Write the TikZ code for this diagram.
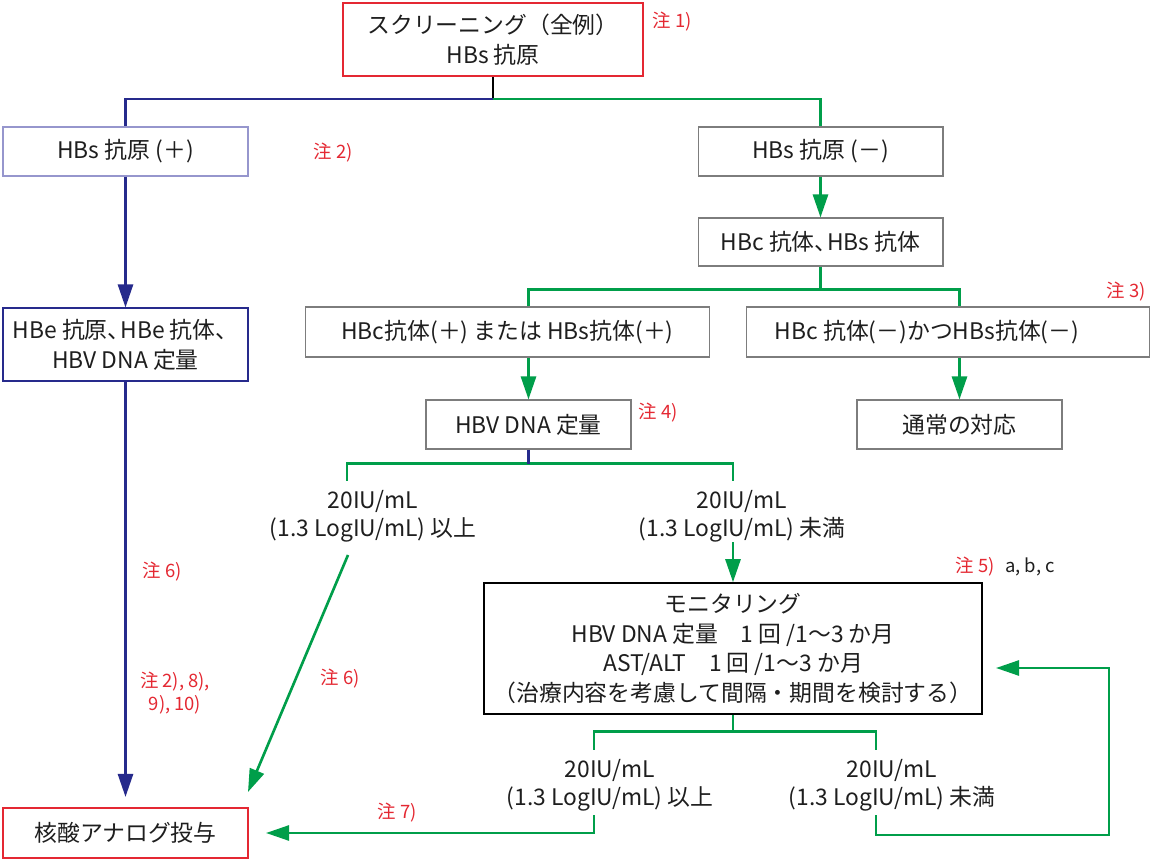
\documentclass[tikz,border=0pt]{standalone}
\usepackage{fontspec}
\setmainfont{Noto Sans CJK JP}
\usepackage{tikz}
\usetikzlibrary{arrows.meta}
\definecolor{flowblue}{RGB}{38,42,140}
\definecolor{flowgreen}{RGB}{0,158,74}
\definecolor{notered}{RGB}{228,40,50}
\definecolor{boxgray}{RGB}{125,125,125}
\definecolor{paleblue}{RGB}{150,150,205}
\definecolor{textgray}{RGB}{30,30,30}
\tikzstyle{box} = [draw=boxgray, rectangle, align=center, inner sep=0pt, text=textgray, font=\fontsize{13}{17}\selectfont, line width=0.6pt]
\tikzstyle{keybox} = [box, draw=notered, line width=1.2pt]
\tikzstyle{level} = [align=center, inner sep=0pt, text=textgray, font=\fontsize{13}{16}\selectfont]
\tikzstyle{note} = [text=notered, font=\fontsize{10.5}{13}\selectfont, inner sep=0pt, align=center]
\tikzstyle{bline} = [line width=1.5pt, color=flowblue]
\tikzstyle{gline} = [line width=1.5pt, color=flowgreen]
\tikzstyle{barrow} = [bline, -{Triangle[length=0.46cm, width=0.3cm]}]
\tikzstyle{garrow} = [gline, -{Triangle[length=0.46cm, width=0.3cm]}]
\begin{document}
\begin{tikzpicture}[x=0.02cm, y=-0.02cm]
    \useasboundingbox (0,0) rectangle (1154,861);
    % boxes
    \node [keybox, minimum width=6cm, minimum height=1.46cm] (screen) at (493,39.5) {スクリーニング（全例）\\HBs 抗原};
    \node [box, draw=paleblue, minimum width=4.9cm, minimum height=0.98cm] (hbs_pos) at (125.5,151.5) {HBs 抗原 (＋)};
    \node [box, minimum width=4.9cm, minimum height=0.98cm] (hbs_neg) at (820.5,151.5) {HBs 抗原 (－)};
    \node [box, minimum width=4.9cm, minimum height=0.96cm] (hbc_test) at (820.5,242) {HBc 抗体、\hspace{-0.45em}HBs 抗体};
    \node [box, draw=flowblue, minimum width=4.9cm, minimum height=1.46cm] (hbe_test) at (125.5,344.5) {HBe 抗原、\hspace{-0.45em}HBe 抗体、\hspace{-0.45em}\\HBV DNA 定量};
    \node [box, minimum width=8.1cm, minimum height=1cm] (hbc_pos) at (507.5,332) {HBc抗体(＋) または HBs抗体(＋)};
    \node [box, minimum width=8.08cm, minimum height=1cm] (hbc_neg) at (948,332) {\hspace*{-0.84cm}HBc 抗体(－)かつHBs抗体(－)};
    \node [box, minimum width=4.1cm, minimum height=0.98cm] (dna_test) at (528.5,424.5) {HBV DNA 定量};
    \node [box, minimum width=4.1cm, minimum height=0.98cm] (routine) at (959.5,424.5) {通常の対応};
    \node [box, draw=black, line width=0.9pt, minimum width=9.96cm, minimum height=2.62cm] (monitor) at (733,648.5)
        {モニタリング\\HBV DNA 定量　1 回 /1～3 か月\\AST/ALT　1 回 /1～3 か月\\（治療内容を考慮して間隔・期間を検討する）};
    \node [keybox, minimum width=4.9cm, minimum height=1cm] (nuc_therapy) at (125.5,833) {核酸アナログ投与};
    % levels
    \node [level] (lvl_hi) at (373,516) {20IU/mL\\(1.3 LogIU/mL) 以上};
    \node [level] (lvl_lo) at (742,516) {20IU/mL\\(1.3 LogIU/mL) 未満};
    \node [level] (lvl_hi2) at (610,785) {20IU/mL\\(1.3 LogIU/mL) 以上};
    \node [level] (lvl_lo2) at (892,785) {20IU/mL\\(1.3 LogIU/mL) 未満};
    % notes
    \node [note] (note1) at (672,22) {注 1)};
    \node [note] (note2) at (333,153) {注 2)};
    \node [note] (note3) at (1126,292) {注 3)};
    \node [note] (note4) at (658,413) {注 4)};
    \node [note] (note5) at (975,567) {注 5)};
    \node [text=textgray, font=\fontsize{10.5}{13}\selectfont, inner sep=0pt] (note5_ref) at (1030,567) {a, b, c};
    \node [note] (note6a) at (162,572) {注 6)};
    \node [note] (note6b) at (340,679) {注 6)};
    \node [note] (note8) at (175,693) {注 2), 8),\\9), 10)};
    \node [note] (note7) at (397,813) {注 7)};
    % connectors
    \coordinate (top_split) at (493,99);
    \draw [line width=1.5pt, black] (screen.south) -- (top_split);
    \draw [bline] (top_split) -| (hbs_pos.north);
    \draw [gline] (top_split) -| (hbs_neg.north);
    \draw [barrow] (hbs_pos) -- (hbe_test);
    \draw [barrow, shorten >=0.2cm] (hbe_test) -- (hbe_test.south |- nuc_therapy.north);
    \draw [garrow] (hbs_neg) -- (hbc_test);
    \draw [gline] (hbc_test.south) -- ++(0,23) coordinate (hbc_split);
    \draw [gline] (hbc_pos.north -| dna_test.north) |- (hbc_split) -| (hbc_neg.north -| routine.north);
    \draw [garrow] (hbc_pos.south -| dna_test.north) -- (dna_test.north);
    \draw [garrow] (hbc_neg.south -| routine.north) -- (routine.north);
    \coordinate (hi_top) at (347,481);
    \coordinate (lo_top) at (monitor.north |- hi_top);
    \draw [gline] (dna_test.south) ++(0,14) coordinate (dna_split);
    \draw [gline] (hi_top) |- (dna_split) -| (lo_top);
    \draw [bline] (dna_test.south) -- (dna_split);
    \draw [garrow] (lvl_lo.south -| monitor.north) -- (monitor.north);
    \coordinate (diag_start) at (348,555);
    \coordinate (diag_end) at (248,792);
    \draw [garrow] (diag_start) -- (diag_end);
    \draw [gline] (monitor.south) -- ++(0,17) coordinate (mon_split);
    \coordinate (hi2_top) at (594,750);
    \coordinate (lo2_top) at (876,750);
    \draw [gline] (hi2_top) |- (mon_split) -| (lo2_top);
    \coordinate (hi2_bot) at (594,815);
    \coordinate (lo2_bot) at (876,815);
    \coordinate (loop_corner) at (1109,835);
    \coordinate (loop_end) at (996,668);
    \draw [garrow, shorten >=0.34cm] (hi2_bot) |- (nuc_therapy.east);
    \draw [garrow] (lo2_bot) |- (loop_corner) |- (loop_end);
\end{tikzpicture}
\end{document}
